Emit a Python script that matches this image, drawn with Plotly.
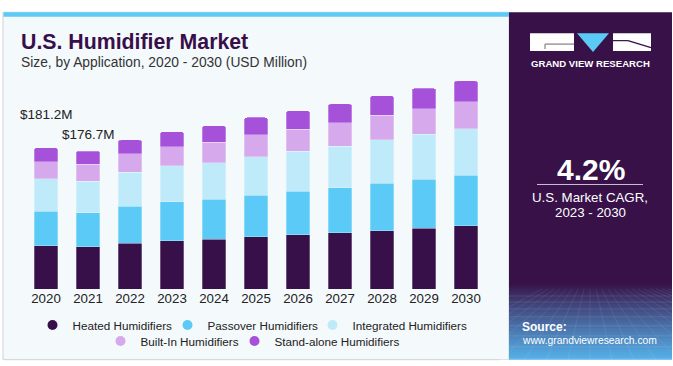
import plotly.graph_objects as go

years = ["2020", "2021", "2022", "2023", "2024", "2025", "2026", "2027", "2028", "2029", "2030"]
heated = [55.3, 54.3, 58.7, 61.6, 63.8, 66.7, 69.3, 71.8, 74.4, 77.8, 80.8]
passover = [44.3, 43.2, 47.2, 50.3, 51.0, 53.6, 56.1, 57.9, 60.9, 62.9, 64.7]
integrated = [41.7, 40.7, 43.8, 45.9, 47.2, 49.4, 51.0, 53.1, 55.8, 57.9, 60.0]
built_in = [22.1, 21.8, 23.5, 24.6, 26.4, 28.1, 28.6, 30.6, 31.4, 32.7, 34.5]
stand_alone = [17.8, 16.7, 17.9, 19.1, 20.8, 22.1, 23.4, 23.9, 25.1, 26.0, 26.8]

series_names = ["Heated Humidifiers", "Passover Humidifiers", "Integrated Humidifiers",
                "Built-In Humidifiers", "Stand-alone Humidifiers"]
series_values = [heated, passover, integrated, built_in, stand_alone]
colors = ["#37104a", "#5ccaf6", "#beeaf9", "#d5a9ec", "#a551d9"]
legend_ids = ["legend", "legend", "legend", "legend2", "legend2"]
legend_widths = [90, 100, 115, 89, 125]

labeled_years = ["2020", "2021"]
label_shift = [24, 7]

W, H = 673, 366
ML, MR, MT, MB = 25, 186, 70, 76
PW = W - ML - MR
PH = H - MT - MB
YMAX = 280.7

FONT = "Liberation Sans, Arial, sans-serif"


def px(x):
    return (x - ML) / PW


def py(y):
    return (H - MB - y) / PH


fig = go.Figure()

for name, vals, col in zip(series_names, series_values, colors):
    fig.add_trace(go.Bar(
        x=years, y=vals, name=name, marker_color=col,
        marker_line_width=0.6, marker_line_color="rgba(255,255,255,0.45)",
        showlegend=False, hoverinfo="skip",
    ))

for name, col, lg, lw in zip(series_names, colors, legend_ids, legend_widths):
    fig.add_trace(go.Scatter(
        x=[None], y=[None], mode="markers", name=name, legend=lg, legendwidth=lw,
        xaxis="x2", yaxis="y2",
        marker=dict(symbol="circle", size=10, color=col), showlegend=True,
    ))

shapes = []


def rect(x0, y0, x1, y1, fill, line=None, lw=0, layer="below"):
    shapes.append(dict(type="rect", xref="paper", yref="paper",
                       x0=px(x0), x1=px(x1), y0=py(y0), y1=py(y1),
                       fillcolor=fill, line=dict(width=lw, color=line or fill), layer=layer))


def line(x0, y0, x1, y1, color, width=1, layer="below"):
    shapes.append(dict(type="line", xref="paper", yref="paper",
                       x0=px(x0), x1=px(x1), y0=py(y0), y1=py(y1),
                       line=dict(width=width, color=color), layer=layer))


def path(pts, fill, layer="below"):
    d = "M " + " L ".join(f"{px(x)},{py(y)}" for x, y in pts) + " Z"
    shapes.append(dict(type="path", xref="paper", yref="paper", path=d,
                       fillcolor=fill, line=dict(width=0), layer=layer))


# card
rect(3, 12, 509, 361, "#f4f9fc", line="#cfd3d6", lw=1)
rect(3.5, 12, 509, 16.5, "#5ccaf6")
# right panel
rect(509, 12, 672, 361, "#371147")


def mix(c1, c2, t):
    a = [int(c1[i:i + 2], 16) for i in (1, 3, 5)]
    b = [int(c2[i:i + 2], 16) for i in (1, 3, 5)]
    return "#" + "".join(f"{round(a[k] + (b[k] - a[k]) * t):02x}" for k in range(3))


g0, g1 = 285, 361
steps = 38
for i in range(steps):
    y0 = g0 + (g1 - g0) * i / steps
    y1 = g0 + (g1 - g0) * (i + 1) / steps
    t = (i + 0.5) / steps
    rect(509, y0, 672, y1 + 0.3, mix("#371147", "#56b2ea", t ** 0.9))

# grid texture
hy = [297, 303, 310, 318, 327, 337, 348, 360]
for y in hy:
    line(509, y, 672, y, "rgba(255,255,255,0.13)", 0.8)
for k in range(-8, 17):
    xt = 590 + k * 6
    xb = 590 + k * 22
    line(xt, 290, xb, 361, "rgba(255,255,255,0.10)", 0.8)
rect(672, 285, 700, 370, "white")
rect(500, 361, 700, 370, "white")

# logo
rect(530, 33, 574, 51, "white")
line(545, 44, 574, 44, "#9a9a9a", 1.5)
line(545, 44, 545, 49, "#9a9a9a", 1.5)
path([(577, 33), (609, 33), (593, 52)], "#5ccaf6")
rect(613, 33, 651, 51, "white")
line(628, 40.5, 651, 47.5, "#37104a", 1.5)
line(613, 40.5, 628, 40.5, "#37104a", 1.2)
# separator under CAGR value
line(537, 185, 643, 185, "rgba(255,255,255,0.75)", 1)

annotations = []


def text(x, y, s, size, color, xanchor="left", bold=False):
    annotations.append(dict(
        xref="paper", yref="paper", x=px(x), y=py(y), text=f"<b>{s}</b>" if bold else s,
        showarrow=False, xanchor=xanchor, yanchor="middle",
        font=dict(family=FONT, size=size, color=color),
    ))


text(19, 42, "U.S. Humidifier Market", 21.3, "#37104a", bold=True)
text(19, 62, "Size, by Application, 2020 - 2030 (USD Million)", 13.8, "#333333")
text(590.5, 63, "GRAND VIEW RESEARCH", 9.6, "white", xanchor="center", bold=True)
text(591, 170, "4.2%", 30, "white", xanchor="center", bold=True)
text(590, 198, "U.S. Market CAGR,", 13.3, "white", xanchor="center")
text(590, 213, "2023 - 2030", 13.3, "white", xanchor="center")
text(520, 328, "Source:", 12, "white", bold=True)
text(520, 342, "www.grandviewresearch.com", 10.3, "white")

totals = [sum(v[i] for v in series_values) for i in range(len(years))]
for yr, sh in zip(labeled_years, label_shift):
    i = years.index(yr)
    annotations.append(dict(
        x=i, y=totals[i], xref="x", yref="y", text=f"${totals[i]:.1f}M",
        showarrow=False, yanchor="bottom", xanchor="center", yshift=sh,
        font=dict(family=FONT, size=13.5, color="#222222"),
    ))

leg_common = dict(orientation="h", x=px(252.5), xanchor="center", yanchor="middle",
                  bgcolor="rgba(0,0,0,0)", font=dict(size=11.7, color="#222222"),
                  itemwidth=30, tracegroupgap=0, traceorder="normal")

fig.update_layout(
    width=W, height=H,
    margin=dict(l=ML, r=MR, t=MT, b=MB, pad=0),
    paper_bgcolor="white", plot_bgcolor="rgba(0,0,0,0)",
    barmode="stack", bargap=0.43, barcornerradius=3,
    font=dict(family=FONT, size=13, color="#333333"),
    shapes=shapes, annotations=annotations,
    xaxis=dict(type="category", range=[-0.5, len(years) - 0.5], autorange=False,
               showgrid=False, zeroline=False, showline=False,
               ticks="", tickfont=dict(size=13.3, color="#222222"), fixedrange=True),
    yaxis=dict(range=[0, YMAX], autorange=False, visible=False, fixedrange=True),
    xaxis2=dict(visible=False, overlaying="x", range=[0, 1]),
    yaxis2=dict(visible=False, overlaying="y", range=[0, 1]),
    legend=dict(y=py(325), **leg_common),
    legend2=dict(y=py(341), **leg_common),
    showlegend=True,
)

fig.write_html("out.html", config={"displayModeBar": False},
               post_script="document.body.style.margin='0';document.body.style.overflow='hidden';")
